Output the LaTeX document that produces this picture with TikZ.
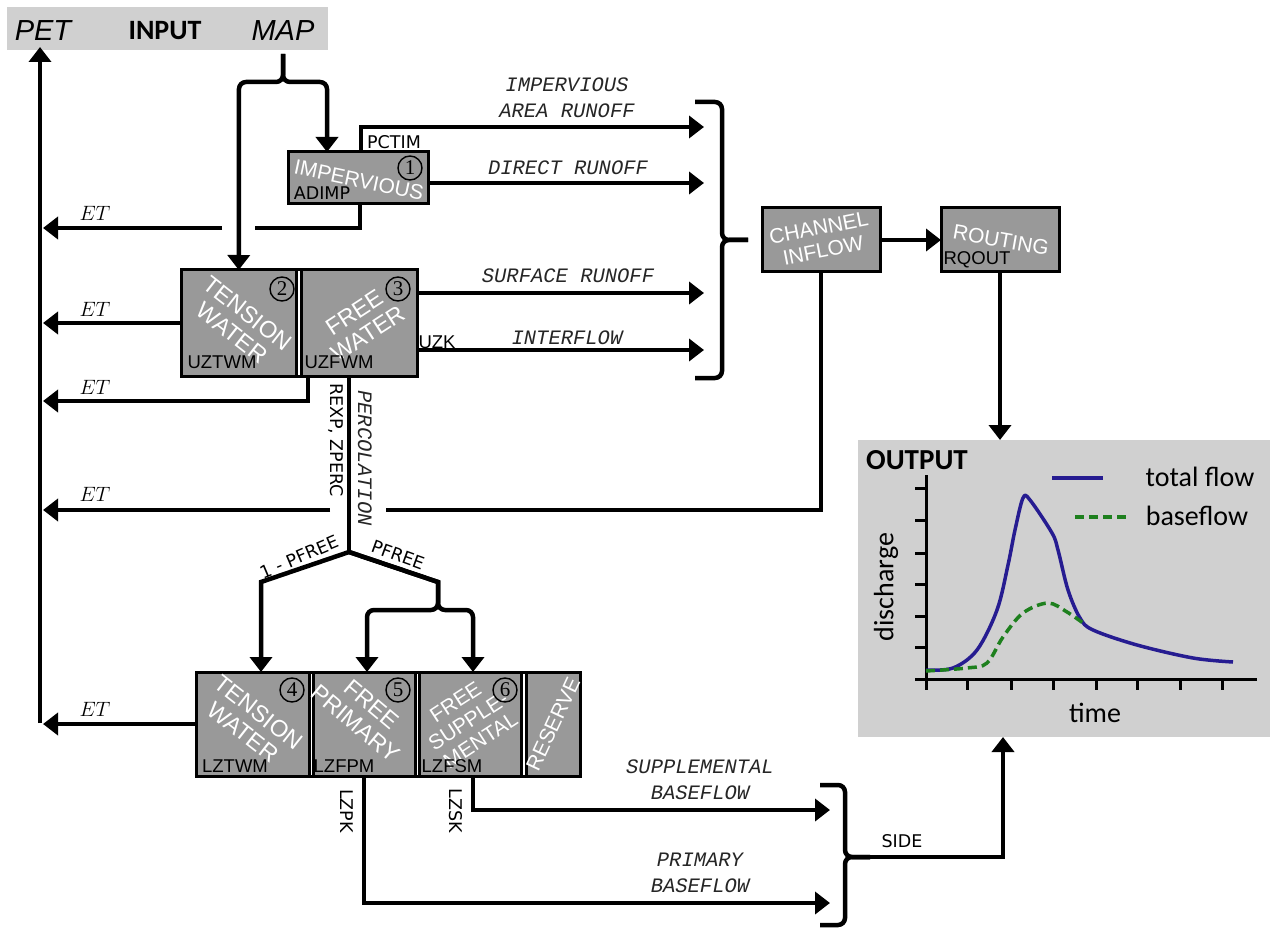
\documentclass[tikz,border=0pt]{standalone}
\usepackage{fontspec}
\setmainfont{Liberation Sans}
\newfontfamily\courf{Liberation Mono}
\newfontfamily\comicf{DejaVu Sans}
\newfontfamily\carlf{Carlito}
\newfontfamily\serff{Liberation Serif}
\usetikzlibrary{arrows.meta}
\definecolor{boxgray}{RGB}{153,153,153}
\definecolor{panelgray}{RGB}{208,208,208}
\definecolor{flowblue}{RGB}{38,28,145}
\definecolor{basegreen}{RGB}{30,128,30}
\begin{document}
\begin{tikzpicture}[x=1pt,y=-1pt,
  tip/.style={-{Triangle[length=15pt,width=22pt]}},
  flow/.style={line width=4.5pt, tip},
  wire/.style={line width=4.5pt},
  brace/.style={line width=4.5pt, rounded corners=7pt},
  store/.style={draw, fill=boxgray, line width=3pt, inner sep=0pt, outer sep=0pt},
  panel/.style={fill=panelgray, inner sep=0pt, outer sep=0pt},
  lbl/.style={text=white, font=\fontsize{21}{23}\selectfont, align=center, inner sep=0pt},
  blbl/.style={text=white, font=\fontsize{23.5}{25}\selectfont, align=center, inner sep=0pt},
  par/.style={font=\fontsize{18.5}{19}\selectfont, inner sep=0pt},
  cpar/.style={font=\comicf\fontsize{17.5}{19}\selectfont, inner sep=0pt},
  mono/.style={font=\courf\itshape\fontsize{20.5}{26}\selectfont, align=center, inner sep=0pt, text=black!85},
  etl/.style={font=\fontsize{20}{22}\selectfont, inner sep=0pt},
  num/.style={circle, draw, line width=1.4pt, minimum size=24pt, inner sep=0pt, font=\serff\fontsize{21}{21}\selectfont},
  chart/.style={font=\carlf\fontsize{28}{30}\selectfont, inner sep=0pt},
  axis/.style={line width=3pt},
]
\useasboundingbox (0,0) rectangle (1270,928);

% ---------- panels ----------
\node[panel, minimum width=321pt, minimum height=43pt] (hdr) at (167.5,28.5) {};
\node[font=\itshape\fontsize{29}{30}\selectfont, inner sep=0pt] (pet) at (43,31) {PET};
\node[font=\carlf\bfseries\fontsize{28}{30}\selectfont, inner sep=0pt] (inp) at (165,31) {INPUT};
\node[font=\itshape\fontsize{29}{30}\selectfont, inner sep=0pt] (map) at (283,31) {MAP};
\node[panel, minimum width=412pt, minimum height=297pt] (outp) at (1064,588.5) {};

% ---------- stores ----------
\node[store, minimum width=140pt, minimum height=52pt] (imp) at (358,178) {};
\node[store, minimum width=115.5pt, minimum height=106pt] (uztw) at (238.75,323) {};
\node[store, minimum width=115.5pt, minimum height=106pt] (uzfw) at (359.25,323) {};
\draw[line width=3pt] (uztw.north west) -- (uzfw.north east);
\draw[line width=3pt] (uztw.south west) -- (uzfw.south east);
\node[store, minimum width=113pt, minimum height=104pt] (lztw) at (252.5,724) {};
\node[store, minimum width=101.5pt, minimum height=104pt] (lzfp) at (364.25,724) {};
\node[store, minimum width=102pt, minimum height=104pt] (lzfs) at (470.5,724) {};
\node[store, minimum width=54pt, minimum height=104pt] (rsv) at (553,724) {};
\draw[line width=3pt] (lztw.north west) -- (rsv.north east);
\draw[line width=3pt] (lztw.south west) -- (rsv.south east);
\node[store, minimum width=118pt, minimum height=64pt] (chan) at (821,240) {};
\node[store, minimum width=118pt, minimum height=64pt] (rout) at (1000,240) {};

% white texts
\node[lbl, rotate=-12] (t1) at (359,180) {IMPERVIOUS};
\node[blbl, rotate=-38] (t2) at (240,323) {TENSION\\WATER};
\node[blbl, rotate=33] (t3) at (361,323) {FREE\\WATER};
\node[blbl, rotate=-38] (t4) at (251,722) {TENSION\\WATER};
\node[blbl, rotate=-40] (t5) at (364,714) {FREE\\PRIMARY};
\node[lbl, rotate=33] (t6) at (468,721) {FREE\\SUPPLE-\\MENTAL};
\node[lbl, rotate=65] (t7) at (553,724) {RESERVE};
\node[lbl, rotate=11] (tc) at (821,239) {CHANNEL\\INFLOW};
\node[lbl, rotate=-10] (tr) at (1001,240) {ROUTING};

% numbers
\node[num] (n1) at (410,168) {1};
\node[num] (n2) at (282,289) {2};
\node[num] (n3) at (398,289) {3};
\node[num] (n4) at (292,690) {4};
\node[num] (n5) at (398,690) {5};
\node[num] (n6) at (505,690) {6};

% parameter labels
\node[cpar] (adimp) at (322,193) {ADIMP};
\node[cpar] (pctim) at (394,142) {PCTIM};
\node[par] (uztwm) at (222,362) {UZTWM};
\node[par] (uzfwm) at (339,362) {UZFWM};
\node[par] (uzk) at (437,342) {UZK};
\node[par] (lztwm) at (235,766) {LZTWM};
\node[par] (lzfpm) at (344,766) {LZFPM};
\node[par] (lzfsm) at (452,766) {LZFSM};
\node[par] (rqout) at (977,260) {RQOUT};
\node[cpar, rotate=-90] (rexp) at (336,440) {REXP, ZPERC};
\node[cpar, rotate=23] (pf1) at (299,557) {1 - PFREE};
\node[cpar, rotate=-20] (pf2) at (398,555) {PFREE};
\node[cpar, rotate=-90] (lzpk) at (347,811) {LZPK};
\node[cpar, rotate=-90] (lzsk) at (456,811) {LZSK};
\node[cpar] (side) at (902,841) {SIDE};

% flow labels
\node[mono] (ia) at (567,98) {IMPERVIOUS\\AREA RUNOFF};
\node[mono] (dr) at (568,168) {DIRECT RUNOFF};
\node[mono] (sr) at (568,276) {SURFACE RUNOFF};
\node[mono] (ifl) at (567,338) {INTERFLOW};
\node[mono, rotate=-90] (perc) at (365,458) {PERCOLATION};
\node[mono] (sb) at (700,780) {SUPPLEMENTAL\\BASEFLOW};
\node[mono] (pb) at (700,873) {PRIMARY\\BASEFLOW};
\node[etl] (et1) at (95,213) {$ET$};
\node[etl] (et2) at (95,309) {$ET$};
\node[etl] (et3) at (95,387) {$ET$};
\node[etl] (et4) at (95,494) {$ET$};
\node[etl] (et5) at (95,709) {$ET$};

% ---------- coordinates ----------
\coordinate (etx) at (43,0);
\coordinate (rx) at (704,0);
\coordinate (bx) at (830,0);
\coordinate (mapb) at (283,54);
\coordinate (petbot) at (40,723);
\coordinate (pct) at (361,127);
\coordinate (dry) at (0,183);
\coordinate (sry) at (0,293);
\coordinate (ify) at (0,350);
\coordinate (ad) at (360,228);
\coordinate (e3) at (308,401);
\coordinate (e4) at (821,510);
\coordinate (split) at (349,552);
\coordinate (lzsc) at (473,810);
\coordinate (lzpc) at (364,903);
\coordinate (b1) at (748,240);
\coordinate (b2) at (870,857);
\coordinate (sidec) at (1003,857);

% ---------- connectors ----------
\draw[flow] (petbot) -- ([yshift=3pt]petbot |- hdr.south);
\draw[brace, tip] (mapb) -- (283,82) -- (239,82) -- (uztw.north);
\draw[brace, tip] (mapb) -- (283,82) -- (327,82) -- ([xshift=39pt]imp.north west);

\draw[flow] (imp.north -| pct) -- (pct) -- (rx |- pct);
\draw[flow] (imp.east |- dry) -- (rx |- dry);
\draw[flow] (uzfw.east |- sry) -- (rx |- sry);
\draw[flow] (uzfw.east |- ify) -- (rx |- ify);

\draw[wire] (imp.south -| ad) -- (ad) -- (255,228);
\draw[flow] (222,228) -- (etx |- ad);
\draw[flow] (uztw.west) -- (etx |- uztw.west);
\draw[flow] (uzfw.south -| e3) -- (e3) -- (etx |- e3);
\draw[wire] (chan.south) -- (e4) -- (386,510);
\draw[flow] (330,510) -- (etx |- e4);
\draw[flow] (lztw.west) -- (etx |- lztw.west);

\draw[wire] (uzfw.south -| split) -- (split);
\draw[flow] (split) -- (261,582) -- ([xshift=8.5pt]lztw.north);
\draw[flow] (split) -- (438,582) [rounded corners=7pt] -- (438,610) -- (367,610) -- (367,672);
\draw[flow] (split) -- (438,582) [rounded corners=7pt] -- (438,610) -- (473,610) -- (473,672);

\draw[brace] (695,102) -- (722,102) -- (722,240) -- (b1);
\draw[brace] (695,378) -- (722,378) -- (722,240) -- (b1);
\draw[flow] (chan.east) -- (rout.west);
\draw[flow] (rout.south) -- (outp.north -| rout.south);

\draw[flow] (lzfs.south -| lzsc) -- (lzsc) -- (bx |- lzsc);
\draw[flow] (lzfp.south -| lzpc) -- (lzpc) -- (bx |- lzpc);
\draw[brace] (820,785) -- (845,785) -- (845,857) -- (b2);
\draw[brace] (820,925) -- (845,925) -- (845,857) -- (b2);
\draw[flow] (b2) -- (sidec) -- (outp.south -| sidec);

% ---------- output chart ----------
\node[font=\carlf\bfseries\fontsize{29}{30}\selectfont, inner sep=0pt] (outl) at (917,460) {OUTPUT};
\draw[axis] (926,475) -- (926,690);
\draw[axis] (915,679) -- (1257,679);
\foreach \yy in {488,520,553,584,616,647} \draw[axis] (915,\yy) -- (926,\yy);
\foreach \xx in {967,1011,1053,1096,1137,1180,1222} \draw[axis] (\xx,679) -- (\xx,690);
\draw[flowblue, line width=3.5pt, line join=round] plot[smooth, tension=0.55] coordinates {(926,670) (953,668) (977,650) (997,610) (1008,565) (1015,530) (1023,498) (1030,500) (1052,533) (1058,550) (1068,590) (1080,618) (1093,630) (1137,645) (1193,658) (1233,662)};
\draw[basegreen, line width=3.5pt, dash pattern=on 9pt off 5pt] plot[smooth, tension=0.55] coordinates {(926,671) (967,668) (987,663) (1003,637) (1023,613) (1048,603) (1067,612) (1083,623)};
\draw[flowblue, line width=4pt] (1052,478) -- (1103,478);
\draw[basegreen, line width=4pt, dash pattern=on 9pt off 5pt] (1075,517) -- (1127,517);
\node[chart] (tf) at (1200,477) {total flow};
\node[chart] (bf) at (1197,516) {baseflow};
\node[chart, rotate=90] (dis) at (886,587) {discharge};
\node[chart] (tim) at (1095,713) {time};
\end{tikzpicture}
\end{document}
